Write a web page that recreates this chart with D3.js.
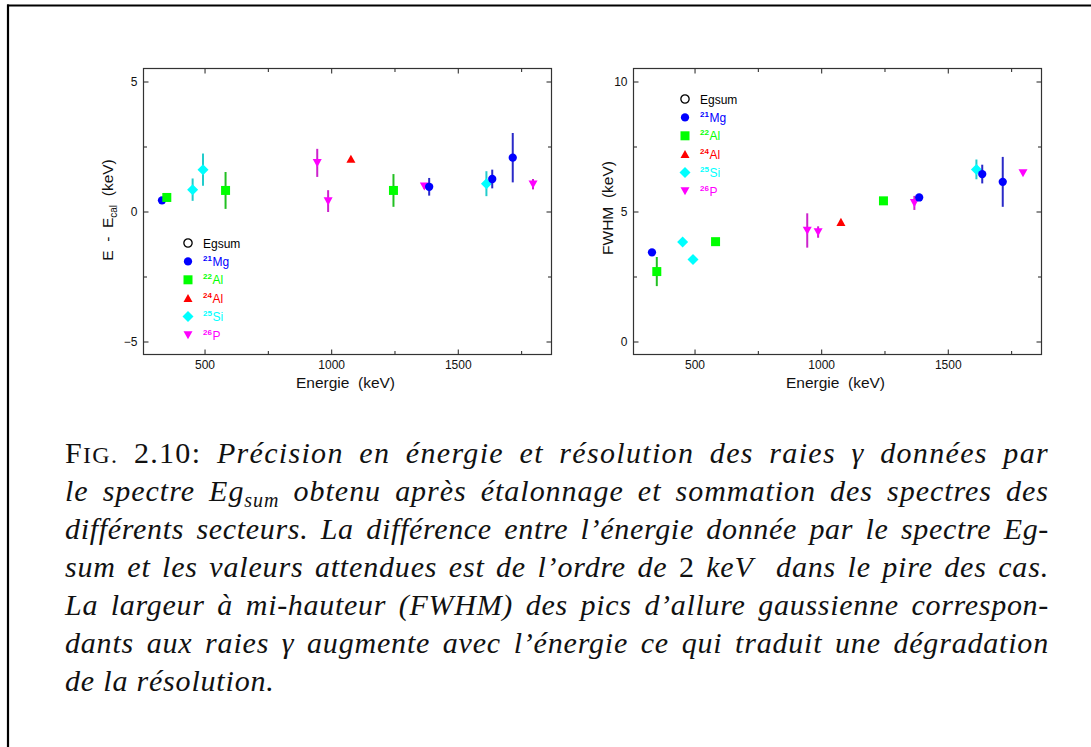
<!DOCTYPE html>
<html>
<head>
<meta charset="utf-8">
<script src="https://cdn.jsdelivr.net/npm/d3@7"></script>
<style>
body { margin: 0; background: #fff; }
svg text { font-family: Arial, "Liberation Sans", sans-serif; }
</style>
</head>
<body>
<div id="fig"></div>
<script>
var svgWidth = 1091;
var svgHeight = 747;

// energies in keV, shift E - Ecal and FWHM in keV
var mgEnergy = [332, 1387, 1636, 1717];
var mgShift = [0.43, 0.95, 1.25, 2.07];
var mgShiftErr = [0, 0.34, 0.36, 0.95];
var mgFwhm = [3.43, 5.54, 6.44, 6.14];
var mgFwhmErr = [0, 0.1, 0.36, 0.96];

var al22Energy = [351, 583, 1246];
var al22Shift = [0.54, 0.81, 0.81];
var al22ShiftErr = [0.12, 0.71, 0.63];
var al22Fwhm = [2.69, 3.84, 5.41];
var al22FwhmErr = [0.56, 0, 0];

var al24Energy = [1078];
var al24Shift = [2.02];
var al24ShiftErr = [0];
var al24Fwhm = [4.59];
var al24FwhmErr = [0];

var siEnergy = [453, 494, 1613];
var siShift = [0.84, 1.61, 1.07];
var siShiftErr = [0.43, 0.62, 0.48];
var siFwhm = [3.83, 3.15, 6.62];
var siFwhmErr = [0, 0, 0.38];

var pEnergy = [945, 988, 1368, 1797];
var pShift = [1.87, 0.40, 0.97, 1.05];
var pShiftErr = [0.54, 0.42, 0.1, 0.2];
var pFwhm = [4.27, 4.21, 5.33, 6.48];
var pFwhmErr = [0.66, 0.22, 0.27, 0.05];

var xTicks = [500, 1000, 1500];
var xMinorTicks = [750, 1250, 1750];
var shiftTicks = [-5, 0, 5];
var shiftMinorTicks = [-2.5, 2.5];
var fwhmTicks = [0, 5, 10];
var fwhmMinorTicks = [2.5, 7.5];

var legendNames = ["Egsum", "Mg", "Al", "Al", "Si", "P"];
var legendMasses = ["", "21", "22", "24", "25", "26"];

var series = [
    {mass: "25", color: "#00ffff", bar: "#22cccc", shape: "diamond", energy: siEnergy, shift: siShift, shiftErr: siShiftErr, fwhm: siFwhm, fwhmErr: siFwhmErr},
    {mass: "26", color: "#ff00ff", bar: "#cc22cc", shape: "down", energy: pEnergy, shift: pShift, shiftErr: pShiftErr, fwhm: pFwhm, fwhmErr: pFwhmErr},
    {mass: "21", color: "#0000ff", bar: "#2a2ac8", shape: "circle", energy: mgEnergy, shift: mgShift, shiftErr: mgShiftErr, fwhm: mgFwhm, fwhmErr: mgFwhmErr},
    {mass: "22", color: "#00ff00", bar: "#22c022", shape: "square", energy: al22Energy, shift: al22Shift, shiftErr: al22ShiftErr, fwhm: al22Fwhm, fwhmErr: al22FwhmErr},
    {mass: "24", color: "#ff0000", bar: "#cc2222", shape: "up", energy: al24Energy, shift: al24Shift, shiftErr: al24ShiftErr, fwhm: al24Fwhm, fwhmErr: al24FwhmErr}
];

var legendStyle = [
    {color: "#000", shape: "open"},
    {color: "#0000ff", shape: "circle"},
    {color: "#00ff00", shape: "square"},
    {color: "#ff0000", shape: "up"},
    {color: "#00ffff", shape: "diamond"},
    {color: "#ff00ff", shape: "down"}
];

function symbolPath(shape){
    if (shape === "circle" || shape === "open") return d3.symbol(d3.symbolCircle, 54)();
    if (shape === "square") return "M-4.5,-4.5H4.5V4.5H-4.5Z";
    if (shape === "diamond") return "M0,-5.5L5.5,0L0,5.5L-5.5,0Z";
    if (shape === "up") return "M0,-4.3L4.5,3.8L-4.5,3.8Z";
    return "M0,4.3L4.5,-3.8L-4.5,-3.8Z";
}

var svg = d3.select("#fig").append("svg").attr("width", svgWidth).attr("height", svgHeight);
svg.append("rect").attr("width", svgWidth).attr("height", svgHeight).attr("fill", "#fff");

// page border
svg.append("line").attr("x1", 7).attr("x2", svgWidth).attr("y1", 5.5).attr("y2", 5.5).attr("stroke", "#000").attr("stroke-width", 2.2);
svg.append("line").attr("x1", 8).attr("x2", 8).attr("y1", 4.5).attr("y2", svgHeight).attr("stroke", "#000").attr("stroke-width", 2.2);

var plotTop = 68.5, plotBottom = 354.5, plotW = 408;

function drawTicks(g, axis, values, size, labels){
    var a = axis.tickValues(values).tickSize(-size).tickPadding(labels ? 6 : 0);
    if (!labels) a.tickFormat("");
    else a.tickFormat(d3.format("d"));
    g.call(a);
    g.select(".domain").remove();
    g.selectAll("line").attr("stroke", "#333").attr("stroke-width", 1.1);
    g.selectAll("text").attr("font-size", 12).attr("fill", "#111").style("font-family", "Arial, 'Liberation Sans', sans-serif");
}

function drawPanel(left, yDomain, yMajor, yMinor, key, errKey, legendX, legendY){
    var g = svg.append("g");
    var x = d3.scaleLinear().domain([259, 1870]).range([left, left + plotW]);
    var y = d3.scaleLinear().domain(yDomain).range([plotBottom, plotTop]);

    drawTicks(g.append("g").attr("transform", `translate(0,${plotBottom})`), d3.axisBottom(x), xTicks, 5, true);
    drawTicks(g.append("g").attr("transform", `translate(0,${plotBottom})`), d3.axisBottom(x), xMinorTicks, 3.5, false);
    drawTicks(g.append("g").attr("transform", `translate(0,${plotTop})`), d3.axisTop(x), xTicks, 5, false);
    drawTicks(g.append("g").attr("transform", `translate(0,${plotTop})`), d3.axisTop(x), xMinorTicks, 3.5, false);
    drawTicks(g.append("g").attr("transform", `translate(${left},0)`), d3.axisLeft(y), yMajor, 5, true);
    drawTicks(g.append("g").attr("transform", `translate(${left},0)`), d3.axisLeft(y), yMinor, 3.5, false);
    drawTicks(g.append("g").attr("transform", `translate(${left + plotW},0)`), d3.axisRight(y), yMajor, 5, false);
    drawTicks(g.append("g").attr("transform", `translate(${left + plotW},0)`), d3.axisRight(y), yMinor, 3.5, false);

    g.append("rect").attr("x", left).attr("y", plotTop).attr("width", plotW).attr("height", plotBottom - plotTop)
        .attr("fill", "none").attr("stroke", "#333").attr("stroke-width", 1.2);

    series.forEach(function(s){
        var pts = s.energy.map(function(e, i){ return {e: e, v: s[key][i], err: s[errKey][i]}; });
        g.selectAll(null).data(pts.filter(function(d){ return d.err > 0; })).enter().append("line")
            .attr("x1", d => x(d.e)).attr("x2", d => x(d.e))
            .attr("y1", d => y(d.v - d.err)).attr("y2", d => y(d.v + d.err))
            .attr("stroke", s.bar).attr("stroke-width", 2);
        g.selectAll(null).data(pts).enter().append("path")
            .attr("d", symbolPath(s.shape))
            .attr("transform", d => `translate(${x(d.e)},${y(d.v)})`)
            .attr("fill", s.color);
    });

    // legend
    var lg = g.append("g");
    legendNames.forEach(function(name, i){
        var ly = legendY + i * 18.4;
        var st = legendStyle[i];
        lg.append("path").attr("d", symbolPath(st.shape)).attr("transform", `translate(${legendX},${ly})`)
            .attr("fill", st.shape === "open" ? "none" : st.color)
            .attr("stroke", st.shape === "open" ? "#000" : "none").attr("stroke-width", 1.3);
        var t = lg.append("text").attr("x", legendX + 15).attr("y", ly + 4.5).attr("fill", st.color).attr("font-size", 12);
        if (legendMasses[i]) {
            t.append("tspan").attr("font-size", 8).attr("font-weight", "bold").attr("dy", -5).text(legendMasses[i]);
            t.append("tspan").attr("dy", 5).attr("dx", 0.5).text(name);
        } else {
            t.text(name);
        }
    });

    g.append("text").attr("x", left + plotW / 2 - 2).attr("y", 388).attr("text-anchor", "middle")
        .attr("font-size", 15.5).style("white-space", "pre").attr("fill", "#111").text("Energie  (keV)");
    return g;
}

var p1 = drawPanel(143.5, [-5.5, 5.5], shiftTicks, shiftMinorTicks, "shift", "shiftErr", 188, 243);
var p2 = drawPanel(633.5, [-0.5, 10.5], fwhmTicks, fwhmMinorTicks, "fwhm", "fwhmErr", 685, 99);

var yl1 = p1.append("text").attr("transform", "translate(113,210) rotate(-90)").attr("text-anchor", "middle")
    .attr("font-size", 15.5).attr("fill", "#111").style("white-space", "pre");
yl1.append("tspan").text("E  -  E");
yl1.append("tspan").attr("font-size", 10).attr("dy", 4).text("cal");
yl1.append("tspan").attr("dy", -4).text("  (keV)");

p2.append("text").attr("transform", "translate(612.5,208) rotate(-90)").attr("text-anchor", "middle")
    .attr("font-size", 15.5).attr("fill", "#111").style("white-space", "pre").text("FWHM  (keV)");

// caption
var captionLines = [
    [["F", "r"], ["IG.", "sc"], [" 2.10: ", "r"], ["Précision en énergie et résolution des raies γ données par", "i"]],
    [["le spectre ", "i"], ["Eg", "i"], ["sum", "sub"], [" obtenu après étalonnage et sommation des spectres des", "i2"]],
    [["différents secteurs. La différence entre l’énergie donnée par le spectre Eg-", "i"]],
    [["sum et les valeurs attendues est de l’ordre de ", "i"], ["2 ", "r"], ["keV", "i"], ["  dans le pire des cas.", "i"]],
    [["La largeur à mi-hauteur (FWHM) des pics d’allure gaussienne correspon-", "i"]],
    [["dants aux raies γ augmente avec l’énergie ce qui traduit une dégradation", "i"]],
    [["de la résolution.", "i"]]
];

var capLeft = 65, capRight = 1049;
var naturalLetter = 0;
captionLines.forEach(function(parts, li){
    var t = svg.append("text").attr("x", capLeft).attr("y", 462.5 + li * 38.1)
        .style("font-family", "'Liberation Serif', 'DejaVu Serif', serif").attr("font-size", 30).attr("fill", "#111")
        .style("white-space", "pre");
    parts.forEach(function(p){
        var sp = t.append("tspan").text(p[0]);
        if (p[1] === "i") sp.style("font-style", "italic");
        if (p[1] === "sc") sp.attr("font-size", 24);
        if (p[1] === "sub") sp.style("font-style", "italic").attr("font-size", 20).attr("dy", 6);
        if (p[1] === "i2") sp.style("font-style", "italic").attr("dy", -6);
    });
    var full = parts.map(p => p[0]).join("");
    var len = t.node().getComputedTextLength();
    var spaces = (full.match(/ /g) || []).length;
    if (li < captionLines.length - 1) {
        var extra = capRight - capLeft - len;
        var ls = Math.max(0, extra * 0.55 / full.length);
        t.attr("letter-spacing", ls);
        len = t.node().getComputedTextLength();
        t.attr("word-spacing", (capRight - capLeft - len) / spaces);
        naturalLetter = ls;
    } else {
        t.attr("letter-spacing", naturalLetter);
    }
});
</script>
</body>
</html>
